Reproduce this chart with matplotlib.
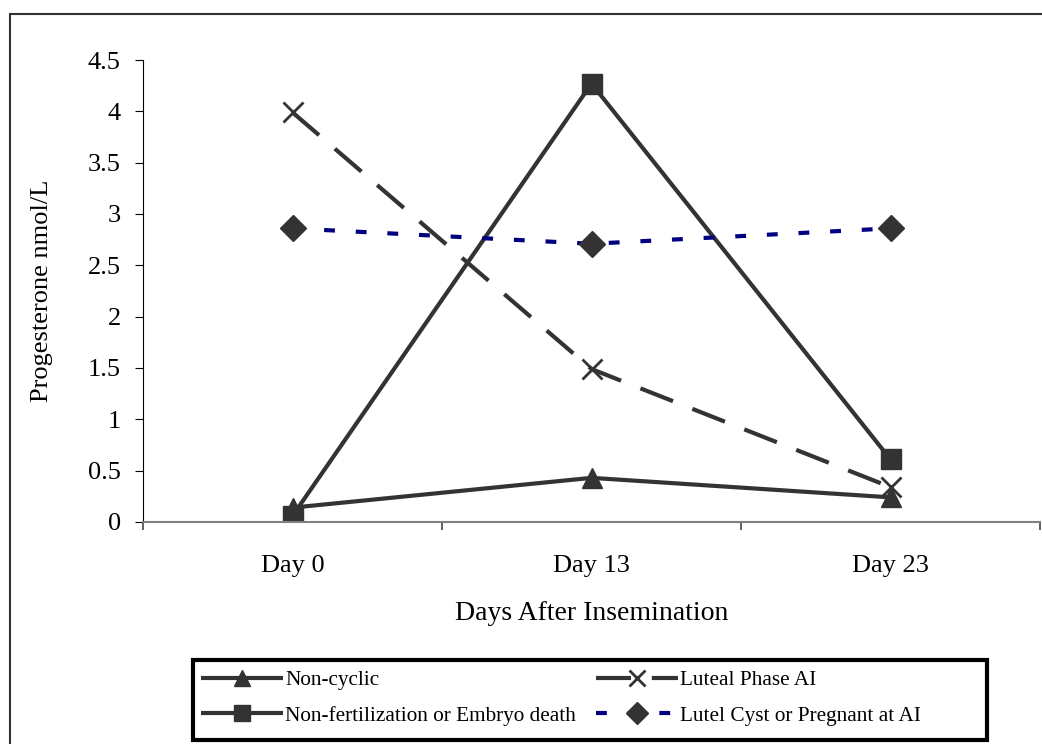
import matplotlib
matplotlib.use('Agg')
import matplotlib.pyplot as plt
from matplotlib.patches import Rectangle

plt.rcParams['font.family'] = ['Liberation Serif', 'DejaVu Serif']

days = ['Day 0', 'Day 13', 'Day 23']
non_cyclic = [0.14, 0.43, 0.24]
luteal_phase = [3.99, 1.49, 0.34]
non_fert = [0.06, 4.27, 0.61]
lutel_cyst = [2.86, 2.71, 2.86]

dark = '#333333'
navy = '#000080'

fig = plt.figure(figsize=(10.42, 7.44), dpi=100)
ax = fig.add_axes([143 / 1042, 1 - 522 / 744, 897 / 1042, 462 / 744])

x = list(range(len(days)))
l1, = ax.plot(x, non_cyclic, color=dark, lw=3, marker='^', ms=14, mfc=dark, mec=dark,
              label='Non-cyclic', solid_capstyle='butt')
l2, = ax.plot(x, luteal_phase, color=dark, lw=3, marker='x', ms=14, mew=2, mec=dark,
              dashes=(8.4, 5), label='Luteal Phase AI', dash_capstyle='butt')
l3, = ax.plot(x, non_fert, color=dark, lw=3, marker='s', ms=14, mfc=dark, mec=dark,
              label='Non-fertilization or Embryo death', solid_capstyle='butt')
l4, = ax.plot(x, lutel_cyst, color=navy, lw=3, marker='D', ms=13, mfc=dark, mec=dark,
              dashes=(2.6, 5), label='Lutel Cyst or Pregnant at AI', dash_capstyle='butt')

ax.set_xlim(-0.5, 2.5)
ax.set_ylim(0, 4.5)
ax.set_yticks([i * 0.5 for i in range(10)])
ax.set_yticklabels(['0', '0.5', '1', '1.5', '2', '2.5', '3', '3.5', '4', '4.5'])
ax.tick_params(axis='y', direction='out', length=6, width=0.8, labelsize=19, pad=10)

ax.set_xticks([-0.5, 0.5, 1.5, 2.5])
ax.set_xticklabels([])
ax.set_xticks(x, minor=True)
ax.set_xticklabels(days, minor=True)
ax.tick_params(axis='x', which='major', direction='out', length=6, width=1.2, color='#444444')
ax.tick_params(axis='x', which='minor', length=0, labelsize=19, pad=24)

for s in ['top', 'right']:
    ax.spines[s].set_visible(False)
ax.spines['left'].set_color('black')
ax.spines['left'].set_linewidth(0.8)
ax.spines['bottom'].set_color('#808080')
ax.spines['bottom'].set_linewidth(1.5)

ax.set_xlabel('Days After Insemination', fontsize=20, va='center')
ax.xaxis.set_label_coords(0.5, -(614 - 522) / 462)
ax.set_ylabel('Progesterone nmol/L', fontsize=19, va='center')
ax.yaxis.set_label_coords((42 - 143) / 897, 0.5)

leg = fig.legend(handles=[l1, l3, l2, l4], ncol=2, loc='center left',
                 bbox_to_anchor=(201 / 1042, 1 - 698 / 744), frameon=False,
                 fontsize=15.3, handlelength=3.86, handletextpad=0.1, columnspacing=0.94,
                 labelspacing=0.75, borderpad=0, borderaxespad=0, markerscale=0.85)

# legend border and outer frame, in figure pixels
fig.patches.append(Rectangle((193 / 1042, 1 - 740 / 744), 794 / 1042, 80 / 744,
                             transform=fig.transFigure, fill=False, ec='black', lw=3))
fig.patches.append(Rectangle((10 / 1042, -0.1), 1.1, 1 - 14 / 744 + 0.1,
                             transform=fig.transFigure, fill=False, ec=dark, lw=1.5,
                             clip_on=False))

fig.savefig('out.png', dpi=100)
